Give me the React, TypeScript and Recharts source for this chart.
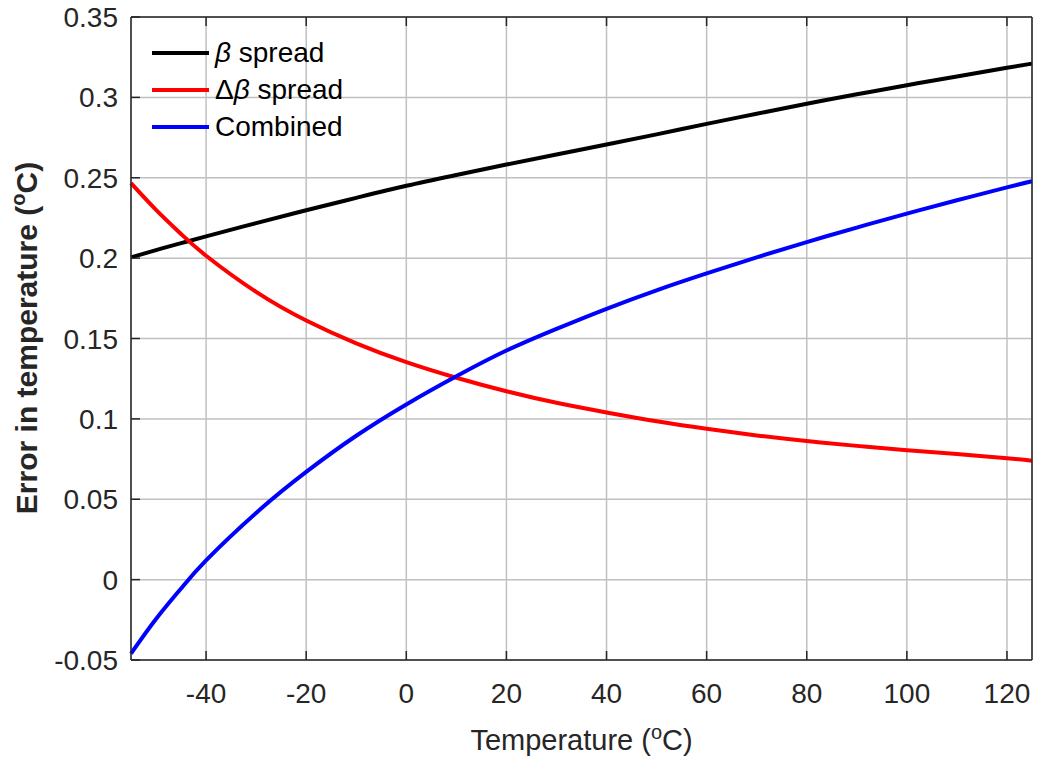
import { LineChart, Line, XAxis, YAxis, CartesianGrid, Label } from "recharts";

// temperature samples (degC) and the three curves
const temps = [-55, -50, -45, -40, -30, -20, -10, 0, 10, 20, 30, 40, 50, 60, 70, 80, 90, 100, 110, 120, 125];
const betaSpread = [0.2005, 0.205, 0.2093, 0.2135, 0.2218, 0.2298, 0.2375, 0.245, 0.2517, 0.2582, 0.2645, 0.2707, 0.277, 0.2835, 0.2898, 0.296, 0.3019, 0.3076, 0.313, 0.3184, 0.321];
const deltaBetaSpread = [0.2466, 0.23, 0.215, 0.2015, 0.179, 0.1612, 0.147, 0.1353, 0.1256, 0.1172, 0.11, 0.104, 0.0985, 0.0938, 0.0897, 0.0862, 0.0832, 0.0805, 0.0781, 0.0755, 0.074];
const combined = [-0.046, -0.0245, -0.0055, 0.012, 0.0415, 0.067, 0.0895, 0.109, 0.1265, 0.1425, 0.156, 0.1685, 0.18, 0.1905, 0.2005, 0.21, 0.219, 0.2277, 0.236, 0.244, 0.2478];

const xTicks = [-40, -20, 0, 20, 40, 60, 80, 100, 120];
const yTicks = [-0.05, 0, 0.05, 0.1, 0.15, 0.2, 0.25, 0.3, 0.35];

const data = temps.map((t, i) => ({
  t,
  beta: betaSpread[i],
  dbeta: deltaBetaSpread[i],
  comb: combined[i],
}));

const W = 1040;
const H = 760;
const LEFT = 131;
const TOP = 17;
const RIGHT = 1032;
const BOTTOM = 660;
const AXIS = "#262626";
const GRID = "#c0c0c0";
const FONT = "'Liberation Sans', Arial, Helvetica, sans-serif";
const TICK_LEN = 9;

function BottomTick({ x, payload }: any) {
  return (
    <g>
      <line x1={x} x2={x} y1={BOTTOM} y2={BOTTOM - TICK_LEN} stroke={AXIS} strokeWidth={1.5} />
      <text x={x} y={BOTTOM + 43} textAnchor="middle" fill={AXIS} fontSize={28} fontFamily={FONT}>
        {String(payload.value)}
      </text>
    </g>
  );
}

function TopTick({ x }: any) {
  return <line x1={x} x2={x} y1={TOP} y2={TOP + TICK_LEN} stroke={AXIS} strokeWidth={1.5} />;
}

function LeftTick({ y, payload }: any) {
  return (
    <g>
      <line x1={LEFT} x2={LEFT + TICK_LEN} y1={y} y2={y} stroke={AXIS} strokeWidth={1.5} />
      <text x={LEFT - 13} y={y + 10} textAnchor="end" fill={AXIS} fontSize={28} fontFamily={FONT}>
        {String(payload.value)}
      </text>
    </g>
  );
}

function RightTick({ y }: any) {
  return <line x1={RIGHT} x2={RIGHT - TICK_LEN} y1={y} y2={y} stroke={AXIS} strokeWidth={1.5} />;
}

const legendRows = [
  { color: "#000000", label: <><i>β</i> spread</> },
  { color: "#ff0000", label: <>Δ<i>β</i> spread</> },
  { color: "#0000ff", label: <>Combined</> },
];

export default function App() {
  return (
    <div style={{ position: "absolute", left: 0, top: 0, width: W, height: H, background: "#fff", fontFamily: FONT }}>
      <LineChart width={W} height={H} data={data} margin={{ top: 0, right: 0, bottom: 0, left: 0 }}>
        <CartesianGrid stroke={GRID} strokeWidth={1.5} />
        <XAxis
          dataKey="t"
          type="number"
          domain={[-55, 125]}
          ticks={xTicks}
          interval={0}
          height={H - BOTTOM}
          tickSize={0}
          axisLine={{ stroke: AXIS, strokeWidth: 1.5 }}
          tickLine={false}
          tick={<BottomTick />}
        >
          <Label
            content={() => (
              <text x={(LEFT + RIGHT) / 2} y={750} textAnchor="middle" fill={AXIS} fontSize={29} fontFamily={FONT}>
                Temperature (<tspan dy={-11} fontSize={20}>o</tspan>
                <tspan dy={11}>C)</tspan>
              </text>
            )}
          />
        </XAxis>
        <XAxis
          xAxisId="top"
          orientation="top"
          dataKey="t"
          type="number"
          domain={[-55, 125]}
          ticks={xTicks}
          interval={0}
          height={TOP}
          tickSize={0}
          axisLine={{ stroke: AXIS, strokeWidth: 1.5 }}
          tickLine={false}
          tick={<TopTick />}
        />
        <YAxis
          type="number"
          domain={[-0.05, 0.35]}
          ticks={yTicks}
          interval={0}
          width={LEFT}
          tickSize={0}
          axisLine={{ stroke: AXIS, strokeWidth: 1.5 }}
          tickLine={false}
          tick={<LeftTick />}
        >
          <Label
            content={() => (
              <text
                x={37}
                y={338}
                transform="rotate(-90 37 338)"
                textAnchor="middle"
                fill={AXIS}
                fontSize={30}
                fontWeight="bold"
                fontFamily={FONT}
              >
                Error in temperature (<tspan dy={-12} fontSize={20}>o</tspan>
                <tspan dy={12}>C)</tspan>
              </text>
            )}
          />
        </YAxis>
        <YAxis
          yAxisId="right"
          orientation="right"
          type="number"
          domain={[-0.05, 0.35]}
          ticks={yTicks}
          interval={0}
          width={W - RIGHT}
          tickSize={0}
          axisLine={{ stroke: AXIS, strokeWidth: 1.5 }}
          tickLine={false}
          tick={<RightTick />}
        />
        <Line type="natural" dataKey="beta" stroke="#000000" strokeWidth={4} dot={false} isAnimationActive={false} />
        <Line type="natural" dataKey="dbeta" stroke="#ff0000" strokeWidth={4} dot={false} isAnimationActive={false} />
        <Line type="natural" dataKey="comb" stroke="#0000ff" strokeWidth={4} dot={false} isAnimationActive={false} />
      </LineChart>

      <div style={{ position: "absolute", left: 151, top: 35, pointerEvents: "none" }}>
        {legendRows.map((r, i) => (
          <div key={i} style={{ display: "flex", alignItems: "center", height: 36.7 }}>
            <svg width={60} height={8} style={{ marginRight: 4 }}>
              <line x1={1} x2={58} y1={4} y2={4} stroke={r.color} strokeWidth={4} />
            </svg>
            <span style={{ fontSize: 28, color: "#000", lineHeight: "36px", whiteSpace: "nowrap" }}>{r.label}</span>
          </div>
        ))}
      </div>
    </div>
  );
}
